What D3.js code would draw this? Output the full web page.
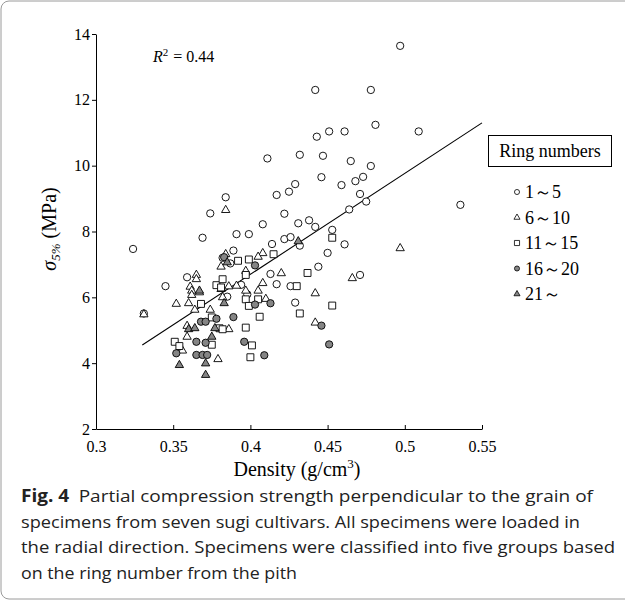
<!DOCTYPE html>
<html><head><meta charset="utf-8">
<script src="https://cdn.jsdelivr.net/npm/d3@7"></script>
<style>body{margin:0;background:#fff}svg{display:block}</style>
</head><body><svg id="c" width="625" height="602"></svg>
<script>
// ---- data (density g/cm3, sigma 5% MPa) ----
const ring1to5 = [[0.411,10.22],[0.497,13.64],[0.442,12.30],[0.478,12.30],[0.481,11.24],[0.451,11.04],[0.461,11.04],[0.509,11.04],[0.443,10.88],[0.432,10.33],[0.447,10.30],[0.465,10.14],[0.478,9.99],[0.446,9.65],[0.429,9.44],[0.417,9.11],[0.425,9.21],[0.459,9.41],[0.468,9.53],[0.473,9.66],[0.471,9.14],[0.475,8.91],[0.536,8.81],[0.464,8.67],[0.422,8.54],[0.431,8.25],[0.438,8.34],[0.442,8.14],[0.453,8.05],[0.414,7.62],[0.422,7.77],[0.426,7.83],[0.432,7.57],[0.461,7.61],[0.450,7.35],[0.444,6.93],[0.413,6.71],[0.471,6.68],[0.417,6.40],[0.426,6.34],[0.429,5.84],[0.324,7.47],[0.384,9.04],[0.374,8.55],[0.408,8.22],[0.391,7.92],[0.399,7.92],[0.369,7.81],[0.389,7.42],[0.387,7.03],[0.394,6.38],[0.398,6.09],[0.385,6.02],[0.345,6.34],[0.359,6.61],[0.331,5.51],[0.382,7.20]];
const ring6to10 = [[0.497,7.49],[0.420,6.73],[0.466,6.58],[0.442,6.12],[0.442,5.23],[0.384,8.65],[0.408,7.34],[0.405,7.23],[0.408,6.43],[0.405,6.20],[0.410,5.95],[0.386,5.03],[0.365,6.68],[0.365,6.55],[0.361,6.32],[0.362,6.20],[0.352,5.80],[0.360,5.82],[0.364,5.62],[0.374,5.62],[0.359,5.13],[0.359,4.80],[0.379,4.12],[0.356,4.38],[0.381,6.93],[0.397,6.80],[0.331,5.48],[0.381,6.25],[0.386,6.33],[0.391,6.35],[0.362,6.07],[0.367,6.15],[0.382,6.00],[0.384,7.31],[0.397,6.20]];
const ring11to15 = [[0.453,7.81],[0.415,7.31],[0.437,6.74],[0.430,6.34],[0.453,5.75],[0.432,5.51],[0.392,7.11],[0.399,7.15],[0.397,5.94],[0.405,5.94],[0.399,5.74],[0.406,5.41],[0.397,5.08],[0.401,4.54],[0.400,4.18],[0.368,5.80],[0.375,5.39],[0.380,5.06],[0.382,5.03],[0.351,4.65],[0.354,4.52],[0.375,4.56],[0.397,6.68],[0.378,6.37],[0.382,6.55],[0.381,6.30]];
const ring16to20 = [[0.413,5.82],[0.446,5.14],[0.451,4.57],[0.403,6.97],[0.403,5.78],[0.389,5.40],[0.396,4.65],[0.409,4.24],[0.368,5.26],[0.371,5.26],[0.378,5.35],[0.352,4.30],[0.365,4.65],[0.371,4.62],[0.365,4.25],[0.369,4.25],[0.372,4.25],[0.383,7.22]];
const ring21plus = [[0.360,5.03],[0.364,5.06],[0.375,4.80],[0.354,3.94],[0.371,3.99],[0.371,3.64],[0.385,7.06],[0.431,7.70],[0.377,5.06],[0.383,5.82],[0.367,6.20]];
const trendDensity = [0.33, 0.55];
const trendSigma = [4.55, 11.3];
const xTicks = [0.3, 0.35, 0.4, 0.45, 0.5, 0.55];
const xTickLabels = ["0.3","0.35","0.4","0.45","0.5","0.55"];
const yTicks = [2, 4, 6, 8, 10, 12, 14];
const groupNames = ["1\uFF5E5","6\uFF5E10","11\uFF5E15","16\uFF5E20","21\uFF5E"];
const captionLines = [
  "Partial compression strength perpendicular to the grain of",
  "specimens from seven sugi cultivars. All specimens were loaded in",
  "the radial direction. Specimens were classified into five groups based",
  "on the ring number from the pith"];

// ---- drawing ----
const svg = d3.select("#c");
const serif = "'Liberation Serif','Times New Roman',serif";
const sans = "'Open Sans','Noto Sans',sans-serif";

// frame
svg.append("rect").attr("x",1).attr("y",1).attr("width",660).attr("height",598)
  .attr("rx",8).attr("fill","none").attr("stroke","#9a9a9a").attr("stroke-width",1);

const x = d3.scaleLinear().domain([0.3,0.55]).range([96,482]);
const y = d3.scaleLinear().domain([2,14]).range([429,34]);

const yAx = svg.append("g").attr("transform","translate(96,0)")
  .call(d3.axisLeft(y).tickValues(yTicks).tickSizeInner(4).tickSizeOuter(0).tickPadding(2));
const xAx = svg.append("g").attr("transform","translate(0,429)")
  .call(d3.axisBottom(x).tickValues(xTicks).tickFormat((d,i)=>xTickLabels[i]).tickSizeInner(-4).tickSizeOuter(0).tickPadding(12));
[yAx,xAx].forEach(a=>{
  a.selectAll("path,line").attr("stroke","#000").attr("stroke-width",1);
  a.selectAll("text").attr("font-family",serif).attr("font-size",16).attr("fill","#000");
});

// trend line
svg.append("line")
  .attr("x1",x(trendDensity[0])).attr("y1",y(trendSigma[0]))
  .attr("x2",x(trendDensity[1])).attr("y2",y(trendSigma[1]))
  .attr("stroke","#000").attr("stroke-width",1.1);

// symbols
const styles = [
  {type:d3.symbolCircle, size:42, fill:"#fff"},
  {type:d3.symbolTriangle, size:30, fill:"#fff"},
  {type:d3.symbolSquare, size:48, fill:"#fff"},
  {type:d3.symbolCircle, size:42, fill:"#858585"},
  {type:d3.symbolTriangle, size:30, fill:"#858585"}
];
const groups = [ring1to5, ring6to10, ring11to15, ring16to20, ring21plus];
groups.forEach((g,i)=>{
  const st = styles[i];
  svg.append("g").selectAll("path").data(g).join("path")
    .attr("d", d3.symbol().type(st.type).size(st.size))
    .attr("transform", d=>`translate(${x(d[0])},${y(d[1])})`)
    .attr("fill", st.fill).attr("stroke","#000").attr("stroke-width",0.9);
});

// R^2
const r2 = svg.append("text").attr("x",153).attr("y",62).attr("font-family",serif).attr("font-size",16);
r2.append("tspan").attr("font-style","italic").text("R");
r2.append("tspan").attr("dy",-6).attr("font-size",11).text("2");
r2.append("tspan").attr("dy",6).attr("dx",5).text("= 0.44");

// axis titles
const yt = svg.append("text").attr("transform","translate(56,229) rotate(-90)")
  .attr("text-anchor","middle").attr("font-family",serif).attr("font-size",20);
yt.append("tspan").attr("font-style","italic").text("\u03C3");
yt.append("tspan").attr("font-style","italic").attr("font-size",13).attr("dy",4).text("5%");
yt.append("tspan").attr("dy",-4).text(" (MPa)");

const xt = svg.append("text").attr("x",297).attr("y",476).attr("text-anchor","middle")
  .attr("font-family",serif).attr("font-size",20);
xt.append("tspan").text("Density (g/cm");
xt.append("tspan").attr("font-size",13).attr("dy",-8).text("3");
xt.append("tspan").attr("dy",8).text(")");

// legend
svg.append("rect").attr("x",488.5).attr("y",135.5).attr("width",123).attr("height",31)
  .attr("fill","#fff").attr("stroke","#000").attr("stroke-width",1);
svg.append("text").attr("x",550).attr("y",157).attr("text-anchor","middle")
  .attr("font-family",serif).attr("font-size",18).text("Ring numbers");
const legSizes = [20,16,26,20,16];
groupNames.forEach((name,i)=>{
  const ly = 192 + i*25.5;
  const st = styles[i];
  svg.append("path").attr("d",d3.symbol().type(st.type).size(legSizes[i]))
    .attr("transform",`translate(517,${ly})`).attr("fill",st.fill).attr("stroke","#000").attr("stroke-width",0.8);
  svg.append("text").attr("x",525).attr("y",ly+6).attr("font-family",serif).attr("font-size",18).text(name);
});

// caption
const capY = [502, 527.5, 553, 578.5];
const capEnds = [593, 580, 615, 297];
captionLines.forEach((t,i)=>{
  const tx = svg.append("text").attr("x",21).attr("y",capY[i]).attr("font-family",sans).attr("font-size",17).attr("fill","#222");
  if(i===0){
    tx.append("tspan").attr("font-weight","bold").text("Fig. 4");
    tx.append("tspan").text("\u2002"+t);
  } else tx.text(t);
  tx.attr("textLength", capEnds[i]-21).attr("lengthAdjust","spacingAndGlyphs");
});
</script></body></html>
